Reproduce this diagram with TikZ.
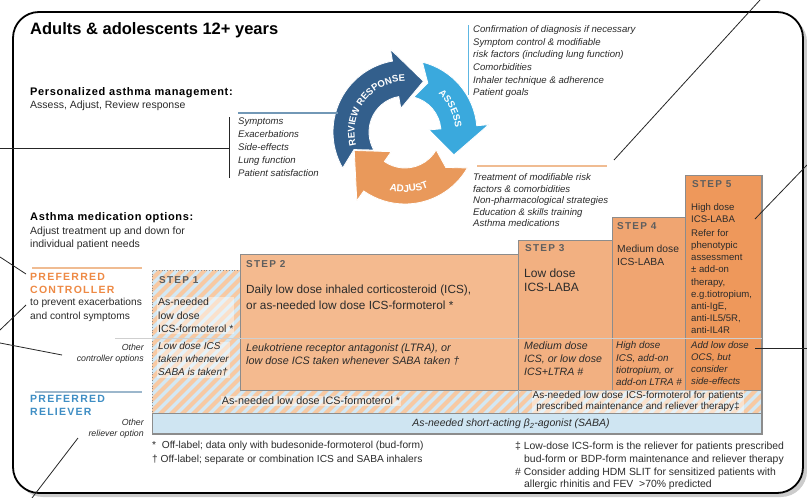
\documentclass[tikz,border=0pt]{standalone}
\usepackage{fontspec}
\setmainfont{Liberation Sans}
\newfontfamily\spacedfont[LetterSpace=12]{Liberation Sans}
\newfontfamily\headfont[LetterSpace=6]{Liberation Sans}
\usetikzlibrary{calc,decorations.text}

\definecolor{txtgray}{HTML}{2B2B2B}
\definecolor{stepgray}{HTML}{5E5E5E}
\definecolor{boxgray}{HTML}{8C8C8C}
\definecolor{ctrlorange}{HTML}{EE8A45}
\definecolor{relblue}{HTML}{3F8EC4}
\definecolor{reviewblue}{HTML}{335F8C}
\definecolor{assessblue}{HTML}{3AA9DD}
\definecolor{adjustorange}{HTML}{E9995B}
\definecolor{stripeorange}{HTML}{F7C9A3}
\definecolor{stripeblue}{HTML}{D3E8F4}
\definecolor{sababg}{HTML}{CFE5F2}
\definecolor{steptwo}{HTML}{F4BA8F}
\definecolor{stepthree}{HTML}{F2B081}
\definecolor{stepfour}{HTML}{F0A571}
\definecolor{stepfive}{HTML}{EE985B}
\definecolor{linegray}{HTML}{CFCFCF}
\definecolor{reviewline}{HTML}{7298B6}
\definecolor{assessline}{HTML}{5DB6E2}
\definecolor{adjustline}{HTML}{F0BC92}

% one curved arrow of the cycle: colour, tail angle, body end, tip angle
\newcommand{\cyclearrow}[4]{%
  \filldraw[fill=#1, draw=white, line width=0.8pt]
    (#2:72) arc[start angle=#2, end angle=#3, radius=72]
    -- (#3:84) -- (#4:54) -- (#3:24) -- (#3:36)
    arc[start angle=#3, end angle=#2, radius=36]
    -- (#2-11:54) -- cycle;
}

\begin{document}
\begin{tikzpicture}[
    x=1pt, y=-1pt,
    frame/.style={line width=1.8pt, rounded corners=26pt},
    note/.style={line width=0.8pt, black!85},
    title/.style={anchor=west, inner sep=0pt, font=\fontsize{16.5}{19}\selectfont\bfseries},
    heading/.style={anchor=west, inner sep=0pt, font=\fontsize{11}{13}\selectfont\headfont\bfseries},
    plain/.style={anchor=north west, inner sep=0pt, align=left, text=txtgray},
    itlist/.style={anchor=north west, inner sep=0pt, align=left, text=txtgray,
      font=\fontsize{9.6}{#1}\selectfont\itshape},
    label/.style={anchor=north west, inner sep=0pt, align=left,
      font=\fontsize{10.5}{13}\selectfont\spacedfont\bfseries},
    other/.style={anchor=north east, inner sep=0pt, align=right, text=txtgray,
      font=\fontsize{8.8}{11}\selectfont\itshape},
    stepname/.style={anchor=west, inner sep=0pt, text=stepgray,
      font=\fontsize{10}{12}\selectfont\spacedfont\bfseries},
    steptext/.style={anchor=north west, inner sep=0pt, align=left, text=txtgray},
    stepbox/.style={draw=boxgray, line width=0.6pt},
    hazy/.style={fill=white, fill opacity=.45, text opacity=1, inner sep=1pt}
  ]
  \useasboundingbox (0,0) rectangle (807,498);

  % ========== Frame ==========
  \fill[gray!40, rounded corners=26pt] (17,16) rectangle (807,497);
  \filldraw[frame, fill=white] (13,12) rectangle (803,493);

  % ========== Header ==========
  \node[title] (title) at (30,30) {Adults \& adolescents 12+ years};
  \node[heading] (pam) at (30,93) {Personalized asthma management:};
  \node[plain, anchor=west, font=\fontsize{10.5}{12}\selectfont] (pamsub) at (30,106)
    {Assess, Adjust, Review response};

  % ========== Cycle ==========
  \begin{scope}[shift={(405,132)}, y=1pt]
    \cyclearrow{reviewblue}{210}{100}{70}
    \cyclearrow{assessblue}{76}{5}{-25}
    \cyclearrow{adjustorange}{-30}{-125}{-160}
    \path[decorate, decoration={text along path, text align=center, text color=white,
      text={|\fontsize{9.5}{11}\selectfont\bfseries|REVIEW RESPONSE}}]
      (203:50.5) arc[start angle=203, end angle=82, radius=50.5];
    \path[decorate, decoration={text along path, text align=center, text color=white,
      text={|\fontsize{9.5}{11}\selectfont\bfseries|ASSESS}}]
      (62:50.5) arc[start angle=62, end angle=-8, radius=50.5];
    \path[decorate, decoration={text along path, text align=center, text color=white,
      text={|\fontsize{10}{11}\selectfont\bfseries|ADJUST}}]
      (239:60) arc[start angle=239, end angle=309, radius=60];
  \end{scope}

  % review list
  \draw[reviewline, line width=1.2pt] (238,113) -- (338,113);
  \node[itlist=13] (reviewlist) at (238,117.5)
    {Symptoms\\Exacerbations\\Side-effects\\Lung function\\Patient satisfaction};
  % assess list
  \draw[assessline, line width=1pt] (468,25) -- (468,95);
  \node[itlist=12.6] (assesslist) at (473,25.5)
    {Confirmation of diagnosis if necessary\\Symptom control \& modifiable\\risk factors (including lung function)\\Comorbidities\\Inhaler technique \& adherence\\Patient goals};
  % adjust list
  \draw[adjustline, line width=1.2pt] (477,166) -- (607,166);
  \node[itlist=11.5] (adjustlist) at (473,173.5)
    {Treatment of modifiable risk\\factors \& comorbidities\\Non-pharmacological strategies\\Education \& skills training\\Asthma medications};

  % ========== Medication options ==========
  \node[heading] (amo) at (30,218) {Asthma medication options:};
  \node[plain, font=\fontsize{10.5}{13}\selectfont] (amosub) at (30,227)
    {Adjust treatment up and down for\\individual patient needs};

  \draw[adjustline, line width=1.2pt] (32,268) -- (142,268);
  \node[label, text=ctrlorange] (ctrl) at (30,273.2) {PREFERRED\\CONTROLLER};
  \node[plain, font=\fontsize{10.2}{14}\selectfont] (ctrlsub) at (30,298)
    {to prevent exacerbations\\and control symptoms};
  \node[other] (ctrlother) at (144,343.5) {Other\\controller options};

  \draw[reviewline!70, line width=1.2pt] (35,392) -- (142,392);
  \node[label, text=relblue] (rel) at (30,395.2) {PREFERRED\\RELIEVER};
  \node[other] (relother) at (144,418.5) {Other\\reliever option};

  % ========== Step table ==========
  \begin{scope}
    \clip (152,270) -- (240,270) -- (240,390) -- (762,390) -- (762,413) -- (152,413) -- cycle;
    \fill[stripeblue] (152,270) rectangle (762,413);
    \foreach \k in {0,...,70}
      \draw[stripeorange, line width=4pt] (\k*11,420) -- ++(160,-160);
  \end{scope}

  \filldraw[stepbox, fill=steptwo] (240,254) rectangle (518,390);
  \filldraw[stepbox, fill=stepthree] (518,240) rectangle (612,390);
  \filldraw[stepbox, fill=stepfour] (612,217) rectangle (685,390);
  \filldraw[stepbox, fill=stepfive] (685,175) rectangle (762,390);
  \filldraw[stepbox, fill=sababg] (152,413) rectangle (762,434);
  \draw[boxgray, line width=1.2pt] (762,175) -- (762,434) -- (152,434);
  \draw[boxgray!70, line width=0.6pt] (518,390) -- (518,413);
  \draw[dotted, boxgray, line width=0.8pt] (152,434) -- (152,270) -- (240,270);
  \draw[dotted, boxgray, line width=0.8pt] (152,413) -- (762,413);
  \draw[linegray, line width=0.5pt] (115,338) -- (762,338);

  % step 1
  \node[stepname] (s1name) at (159,280) {STEP 1};
  \node[steptext, hazy, font=\fontsize{10.5}{13.5}\selectfont] (s1main) at (157,297)
    {As-needed\\low dose\\ICS-formoterol *};
  \node[steptext, hazy, font=\fontsize{10}{13}\selectfont\itshape] (s1other) at (157,341.5)
    {Low dose ICS\\taken whenever\\SABA is taken†};
  % step 2
  \node[stepname] (s2name) at (246,264) {STEP 2};
  \node[steptext, font=\fontsize{11.8}{16}\selectfont] (s2main) at (246,284.5)
    {Daily low dose inhaled corticosteroid (ICS),\\or as-needed low dose ICS-formoterol *};
  \node[steptext, font=\fontsize{10.8}{13}\selectfont\itshape] (s2other) at (246,343)
    {Leukotriene receptor antagonist (LTRA), or\\low dose ICS taken whenever SABA taken †};
  % step 3
  \node[stepname] (s3name) at (525,248) {STEP 3};
  \node[steptext, font=\fontsize{12}{14}\selectfont] (s3main) at (524,268.5)
    {Low dose\\ICS-LABA};
  \node[steptext, font=\fontsize{10.6}{13}\selectfont\itshape] (s3other) at (524,342)
    {Medium dose\\ICS, or low dose\\ICS+LTRA \#};
  % step 4
  \node[stepname] (s4name) at (617,226) {STEP 4};
  \node[steptext, font=\fontsize{10.3}{13}\selectfont] (s4main) at (617,244.5)
    {Medium dose\\ICS-LABA};
  \node[steptext, font=\fontsize{9.8}{12.3}\selectfont\itshape] (s4other) at (616,341.5)
    {High dose\\ICS, add-on\\tiotropium, or\\add-on LTRA \#};
  % step 5
  \node[stepname] (s5name) at (692,184) {STEP 5};
  \node[steptext, font=\fontsize{9.6}{11.5}\selectfont] (s5main) at (691,203.5)
    {High dose\\ICS-LABA};
  \node[steptext, font=\fontsize{9.6}{12.1}\selectfont] (s5refer) at (691,229.5)
    {Refer for\\phenotypic\\assessment\\± add-on\\therapy,\\e.g.tiotropium,\\anti-IgE,\\anti-IL5/5R,\\anti-IL4R};
  \node[steptext, font=\fontsize{9.6}{12}\selectfont\itshape] (s5other) at (691,341.5)
    {Add low dose\\OCS, but\\consider\\side-effects};

  % reliever rows
  \node[hazy, text=txtgray, font=\fontsize{10.8}{12}\selectfont] (relrow) at (311,401)
    {As-needed low dose ICS-formoterol *};
  \node[hazy, align=center, text=txtgray, font=\fontsize{10}{11}\selectfont] (relmart) at (638,401.5)
    {As-needed low dose ICS-formoterol for patients\\prescribed maintenance and reliever therapy‡};
  \node[text=txtgray, font=\fontsize{10.5}{12}\selectfont\itshape] (saba) at (511,424)
    {As-needed short-acting β\textsubscript{2}-agonist (SABA)};

  % footnotes
  \node[plain, font=\fontsize{10.2}{14}\selectfont] (footleft) at (152,441)
    {*\ \ Off-label; data only with budesonide-formoterol (bud-form)\\† Off-label; separate or combination ICS and SABA inhalers};
  \node[plain, font=\fontsize{10.4}{12.7}\selectfont] (footright) at (515,442)
    {‡ Low-dose ICS-form is the reliever for patients prescribed\\\hspace*{9pt}bud-form or BDP-form maintenance and reliever therapy\\\# Consider adding HDM SLIT for sensitized patients with\\\hspace*{9pt}allergic rhinitis and FEV\ \ >70\% predicted};

  % ========== Pointer lines ==========
  \coordinate (edgeTR) at (760,0);
  \coordinate (adjustnote) at (614,160);
  \coordinate (edgeL1) at (0,148);
  \coordinate (reviewbrk) at (229,148);
  \coordinate (brktop) at (229,117);
  \coordinate (brkbot) at (229,178);
  \coordinate (edgeL2) at (0,257);
  \coordinate (ctrlA) at (26,274);
  \coordinate (edgeL3) at (0,330);
  \coordinate (ctrlB) at (26,305);
  \coordinate (edgeL4) at (0,343);
  \coordinate (ctrlC) at (62,355);
  \coordinate (edgeBL) at (32,498);
  \coordinate (relC) at (78,438);
  \coordinate (edgeR1) at (807,165);
  \coordinate (step5a) at (755,219);
  \coordinate (edgeR2) at (807,348);
  \coordinate (step5b) at (755,348);

  \draw[note] (edgeTR) -- (adjustnote);
  \draw[note] (edgeL1) -- (reviewbrk);
  \draw[note] (brktop) -- (brkbot);
  \draw[note] (edgeL2) -- (ctrlA);
  \draw[note] (edgeL3) -- (ctrlB);
  \draw[note] (edgeL4) -- (ctrlC);
  \draw[note] (edgeBL) -- (relC);
  \draw[note] (edgeR1) -- (step5a);
  \draw[note] (edgeR2) -- (step5b);
\end{tikzpicture}
\end{document}
